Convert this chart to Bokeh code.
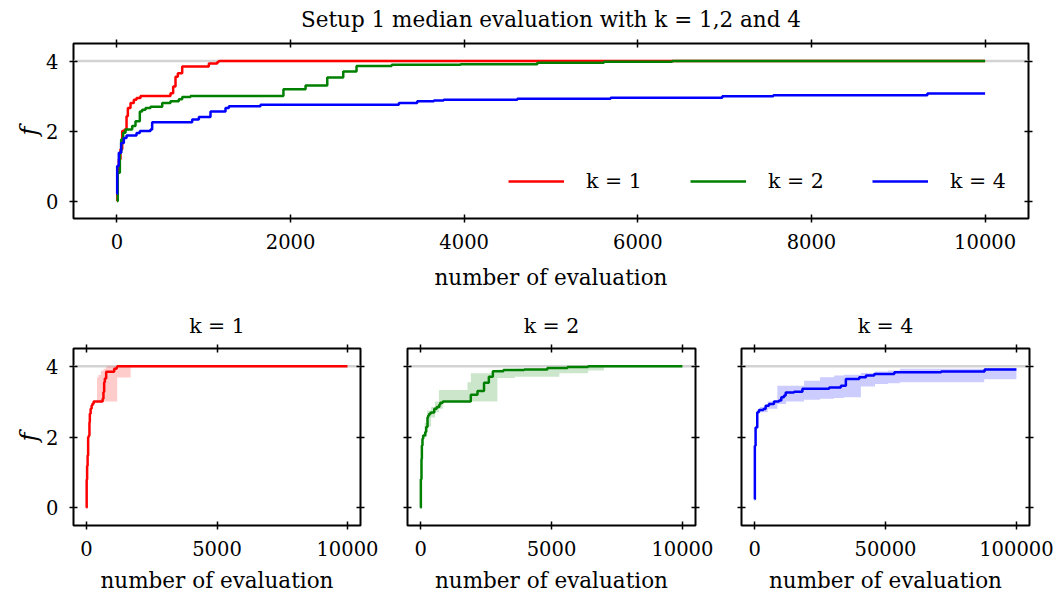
from bokeh.plotting import figure
from bokeh.models import (Range1d, FixedTicker, LinearAxis, Span, Legend, Title,
                          LegendItem, NumeralTickFormatter, CustomLabelingPolicy)
from bokeh.layouts import column, row
from bokeh.embed import file_html
from bokeh.resources import INLINE

# ------------------------------------------------------------------ data
# k = 1 : median (step "after") and inter-quantile band
k1_x = [0, 5, 22, 41, 61, 88, 111, 126, 157, 195, 226, 272, 617, 648, 675, 702,
        752, 1059, 1156, 1174, 10000]
k1_med = [0.0, 0.8, 1.19, 1.48, 2.0, 2.04, 2.42, 2.66, 2.80, 2.89, 2.94, 3.0, 3.08,
          3.27, 3.55, 3.65, 3.84, 3.93, 3.97, 4.0, 4.0]
k1_band_x = [400, 450, 550, 650, 740, 800, 1175, 1690, 10000]
k1_lo = [3.0, 3.0, 3.0, 3.0, 3.0, 3.0, 3.68, 4.0, 4.0]
k1_hi = [3.68, 3.75, 3.87, 3.93, 3.97, 4.0, 4.0, 4.0, 4.0]

# k = 2
k2_x = [0, 10, 34, 49, 72, 99, 176, 214, 264, 291, 330, 387, 522, 617, 713, 752,
        848, 1918, 2173, 2423, 2607, 2760, 3165, 3958, 4842, 5610, 6397, 10000]
k2_med = [0.0, 0.81, 1.38, 1.76, 1.95, 2.04, 2.14, 2.28, 2.56, 2.61, 2.66, 2.69,
          2.80, 2.85, 2.91, 2.97, 3.0, 3.19, 3.30, 3.53, 3.70, 3.86, 3.89, 3.91,
          3.95, 3.98, 4.0, 4.0]
k2_band_x = [150, 250, 400, 550, 700, 848, 1790, 1920, 2770, 2934, 3600, 5300,
             6400, 7000, 10000]
k2_lo = [2.0, 2.3, 2.55, 2.7, 2.8, 3.0, 3.0, 3.0, 3.0, 3.67, 3.70, 3.80, 3.88,
         4.0, 4.0]
k2_hi = [2.4, 2.75, 2.85, 3.0, 3.33, 3.33, 3.55, 3.80, 3.89, 3.91, 3.93, 3.97,
         3.99, 4.0, 4.0]

# k = 4, first 10000 evaluations (top panel)
k4_top_x = [0, 3, 22, 49, 80, 111, 226, 264, 387, 406, 867, 944, 1078, 1251, 1290,
            1654, 3248, 3459, 3651, 3763, 4612, 5687, 6973, 7561, 9335, 10000]
k4_top_med = [0.2, 1.0, 1.38, 1.66, 1.80, 1.87, 1.94, 2.0, 2.04, 2.25, 2.33, 2.40,
              2.56, 2.66, 2.71, 2.75, 2.80, 2.85, 2.87, 2.89, 2.92, 2.95, 2.99,
              3.02, 3.07, 3.07]

# k = 4, full run (bottom right panel)
k4_x = [0, 100, 383, 1022, 1660, 3320, 4215, 5490, 7400, 9320, 10200, 11240, 11880,
        15070, 18260, 28480, 32950, 34860, 39970, 42520, 45710, 53370, 71250,
        87860, 100000]
k4_med = [0.24, 1.75, 2.27, 2.70, 2.76, 2.79, 2.88, 2.93, 3.0, 3.03, 3.12, 3.17,
          3.26, 3.28, 3.36, 3.40, 3.45, 3.64, 3.69, 3.74, 3.78, 3.83, 3.85, 3.91,
          3.91]
k4_band_x = [2000, 5000, 8700, 12000, 18900, 25000, 30400, 34100, 40600, 46000,
             50900, 55500, 87700, 100000]
k4_lo = [2.70, 2.80, 2.93, 3.00, 3.05, 3.08, 3.10, 3.12, 3.43, 3.50, 3.52, 3.55,
         3.63, 3.63]
k4_hi = [2.85, 3.0, 3.45, 3.45, 3.59, 3.69, 3.74, 3.76, 3.81, 3.85, 3.88, 3.93,
         3.95, 3.95]

f_optimum = 4
x_ticks_top = [0, 2000, 4000, 6000, 8000, 10000]
x_ticks_10k = [0, 5000, 10000]
x_ticks_100k = [0, 50000, 100000]
y_ticks = [0, 2, 4]
main_title = "Setup 1 median evaluation with k = 1,2 and 4"
legend_labels = ["k = 1", "k = 2", "k = 4"]
colors = ["#ff0000", "#008000", "#0000ff"]

# ------------------------------------------------------------------ style
FONT = "DejaVu Serif"
TICK_PX = "19.5px"
LABEL_PX = "21.5px"
SUB_PX = "20.5px"

hide_all = CustomLabelingPolicy(code="for (const i of indices) indices.unset(i); return indices")


def style_axis(ax, ticks, show_labels=True):
    ax.ticker = FixedTicker(ticks=ticks)
    ax.axis_line_color = None
    ax.major_tick_in = 4
    ax.major_tick_out = 4
    ax.major_tick_line_color = "black"
    ax.major_tick_line_width = 1.5
    ax.minor_tick_line_color = None
    ax.major_label_text_font = FONT
    ax.major_label_text_color = "black"
    if show_labels:
        ax.major_label_text_font_size = TICK_PX
        ax.major_label_standoff = 11
    else:
        ax.major_label_text_font_size = "1px"
        ax.major_label_standoff = 0
        ax.major_label_policy = hide_all
    ax.axis_label_text_font = FONT
    ax.axis_label_text_color = "black"


def make_fig(fw, fh, bl, br, bt, bb, xr, xticks, ylabels, title, title_size,
             title_standoff, xlabel_standoff):
    p = figure(frame_width=fw, frame_height=fh,
               min_border_left=bl, min_border_right=br,
               min_border_top=bt, min_border_bottom=bb,
               x_range=Range1d(*xr), y_range=Range1d(-0.5, 4.5),
               output_backend="svg", toolbar_location=None)
    p.title = Title(text=title, align="center", text_font=FONT,
                    text_font_size=title_size, text_font_style="normal",
                    text_color="black", standoff=title_standoff)
    p.grid.visible = False
    p.outline_line_color = "black"
    p.outline_line_width = 2
    p.background_fill_color = "white"
    p.border_fill_color = "white"
    xa = p.xaxis[0]
    style_axis(xa, xticks, True)
    xa.formatter = NumeralTickFormatter(format="0")
    xa.axis_label = "number of evaluation"
    xa.axis_label_text_font_size = LABEL_PX
    xa.axis_label_text_font_style = "normal"
    xa.axis_label_standoff = xlabel_standoff
    ya = p.yaxis[0]
    style_axis(ya, y_ticks, ylabels)
    if ylabels:
        ya.axis_label = "f"
        ya.axis_label_text_font_size = "24px"
        ya.axis_label_text_font_style = "italic"
        ya.axis_label_standoff = 0
    top = LinearAxis()
    style_axis(top, xticks, False)
    p.add_layout(top, "above")
    right = LinearAxis()
    style_axis(right, y_ticks, False)
    p.add_layout(right, "right")
    p.add_layout(Span(location=f_optimum, dimension="width", line_color="#d3d3d3",
                      line_width=2.5, level="underlay"))
    return p


# ------------------------------------------------------------------ top panel
p0 = make_fig(955, 175, 73, 20, 43, 84, (-500, 10500), x_ticks_top, True,
              main_title, LABEL_PX, 8, 13)
r1 = p0.step(k1_x, k1_med, mode="after", line_color=colors[0], line_width=2.5)
r2 = p0.step(k2_x, k2_med, mode="after", line_color=colors[1], line_width=2.5)
r3 = p0.step(k4_top_x, k4_top_med, mode="after", line_color=colors[2], line_width=2.5)
leg = Legend(items=[LegendItem(label=legend_labels[i], renderers=[r])
                    for i, r in enumerate([r1, r2, r3])],
             location=(435, 25), orientation="horizontal",
             glyph_width=56, glyph_height=20, label_standoff=22, label_width=60,
             spacing=44, padding=0, margin=0, border_line_color=None,
             background_fill_alpha=0, label_text_font=FONT,
             label_text_font_size=SUB_PX, label_text_color="black")
p0.add_layout(leg)

# ------------------------------------------------------------------ bottom panels
specs = [
    (k1_x, k1_med, k1_band_x, k1_lo, k1_hi, (-500, 10500), x_ticks_10k, True, 73, 33),
    (k2_x, k2_med, k2_band_x, k2_lo, k2_hi, (-500, 10500), x_ticks_10k, False, 14, 32),
    (k4_x, k4_med, k4_band_x, k4_lo, k4_hi, (-5000, 105000), x_ticks_100k, False, 14, 26),
]
bottom = []
for i, (xs, med, bx, lo, hi, xr, xt, ylab, bl, br) in enumerate(specs):
    fw = 287 if i == 0 else 288
    p = make_fig(fw, 177, bl, br, 46, 70, xr, xt, ylab, legend_labels[i], SUB_PX, 6, 9)
    p.varea_step(x=bx, y1=lo, y2=hi, step_mode="after", fill_color=colors[i],
                 fill_alpha=0.2)
    p.step(xs, med, mode="after", line_color=colors[i], line_width=2.5)
    bottom.append(p)

layout = column(p0, row(*bottom))
open("out.html", "w").write(file_html(layout, INLINE))
